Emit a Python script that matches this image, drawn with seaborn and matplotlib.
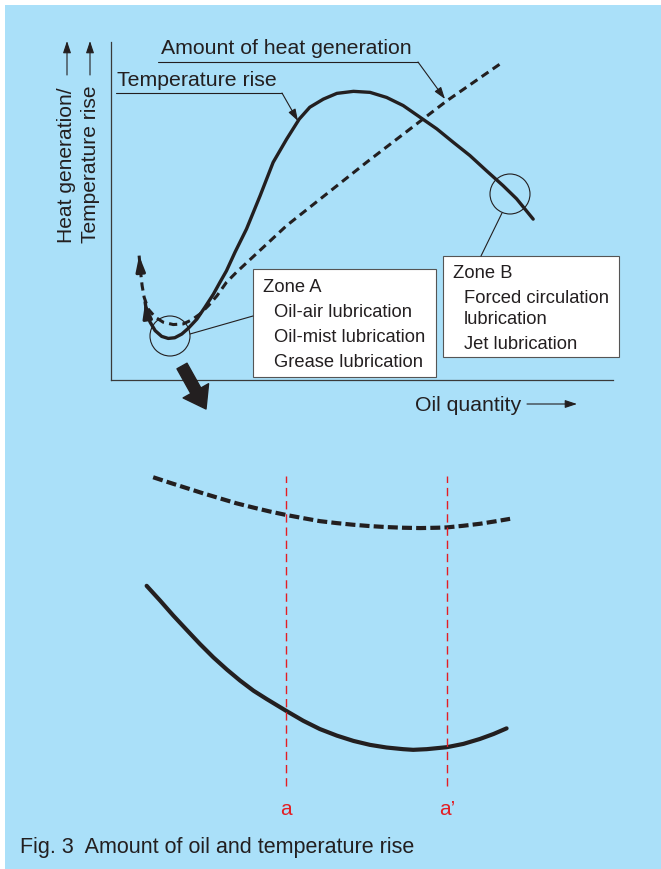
import matplotlib
matplotlib.use("Agg")
import matplotlib.pyplot as plt
import seaborn as sns
from matplotlib.patches import Rectangle, Circle

# upper panel, schematic units (oil quantity 0-100 / heat & temperature 0-100)
temp_x = [6.8, 7.1, 7.8, 8.8, 10.1, 11.4, 12.7, 14.1, 15.4, 17.1, 18.7, 20.4, 21.7, 23.0,
          24.7, 27.0, 29.7, 32.3, 35.0, 37.5, 39.6, 42.3, 45.0, 48.3, 51.6, 54.9, 58.2,
          61.6, 64.9, 68.2, 71.5, 74.8, 78.1, 80.8, 84.1]
temp_y = [23.0, 20.0, 17.1, 14.6, 12.9, 12.3, 12.5, 13.6, 15.3, 18.0, 21.5, 25.4, 28.9, 32.3,
          37.8, 44.7, 54.5, 64.4, 71.3, 77.2, 80.7, 83.1, 84.8, 85.4, 85.1, 83.6, 81.2,
          77.7, 74.3, 70.3, 66.4, 61.9, 57.5, 53.6, 47.6]
heat_x = [5.6, 5.9, 6.2, 6.6, 7.4, 8.8, 10.4, 12.4, 14.4, 16.1, 17.7, 19.4, 21.1, 23.0,
          25.0, 35.0, 50.9, 66.9, 77.5]
heat_y = [36.8, 31.9, 27.9, 24.5, 21.0, 18.6, 17.1, 16.4, 16.6, 17.8, 19.5, 22.0, 24.9, 28.9,
          31.9, 45.7, 64.4, 82.6, 93.5]

# lower panel (close-up of zone A minimum)
zoom_heat_x = [8.4, 11.8, 15.1, 18.4, 21.7, 25.0, 28.4, 31.7, 34.8, 38.3, 41.6, 45.0, 48.3,
               51.6, 54.9, 58.2, 61.6, 64.9, 66.9, 70.2, 73.5, 76.8, 79.5]
zoom_heat_y = [97.5, 95.8, 94.2, 92.6, 91.1, 89.6, 88.3, 87.1, 86.1, 85.1, 84.2, 83.6, 83.1,
               82.7, 82.4, 82.2, 82.1, 82.2, 82.3, 82.8, 83.4, 84.2, 84.9]
zoom_temp_x = [7.1, 9.8, 12.4, 15.1, 17.7, 20.4, 23.1, 25.7, 28.4, 31.0, 34.8, 38.3, 41.6,
               45.0, 48.3, 51.6, 54.9, 58.2, 60.2, 62.9, 66.9, 70.2, 73.5, 76.2, 78.8]
zoom_temp_y = [64.6, 60.1, 55.6, 51.2, 47.0, 42.9, 39.2, 35.9, 32.8, 30.3, 26.8, 23.7, 21.2,
               19.2, 17.6, 16.4, 15.6, 15.1, 14.9, 15.1, 15.7, 16.7, 18.2, 19.7, 21.4]
marks_x = [34.9, 66.9]
mark_labels = ["a", "a\u2019"]

zone_a_lines = ["Oil-air lubrication", "Oil-mist lubrication", "Grease lubrication"]
zone_b_lines = ["Forced circulation", "lubrication", "Jet lubrication"]

BG = "#aae0f9"
INK = "#231f20"
RED = "#e31e24"

sns.set_theme(style="white")
plt.rcParams["font.family"] = ["Liberation Sans", "DejaVu Sans"]

W, H = 661, 870
fig = plt.figure(figsize=(W / 100, H / 100), dpi=100, facecolor="white")
fig.add_artist(Rectangle((5 / W, 0), (W - 5) / W, (H - 6) / H, transform=fig.transFigure,
                         facecolor=BG, edgecolor="none", zorder=-10))

# main chart
ax = fig.add_axes([111 / W, (H - 381) / H, 502 / W, 338 / H])
ax.set_facecolor("none")
sns.lineplot(x=temp_x, y=temp_y, sort=False, estimator=None, ax=ax, color=INK, lw=2.4)
sns.lineplot(x=heat_x, y=heat_y, sort=False, estimator=None, ax=ax, color=INK, lw=2.2,
             linestyle=(0, (2.7, 1.7)))
ax.set_xlim(0, 100)
ax.set_ylim(0, 100)
ax.set_xticks([])
ax.set_yticks([])
sns.despine(ax=ax)
for s in ["left", "bottom"]:
    ax.spines[s].set_color("#3a3a3a")
    ax.spines[s].set_linewidth(0.9)

# arrowheads at the start of both curves
head = "-|>,head_length=0.5,head_width=0.15"
ax.annotate("", xy=(heat_x[0], heat_y[0]), xytext=(heat_x[1], heat_y[1]),
            arrowprops=dict(arrowstyle=head, color=INK, lw=2.2, mutation_scale=18,
                            shrinkA=3, shrinkB=0))
ax.annotate("", xy=(temp_x[0], temp_y[0]), xytext=(temp_x[1], temp_y[1]),
            arrowprops=dict(arrowstyle=head, color=INK, lw=2.2, mutation_scale=18,
                            shrinkA=0, shrinkB=0))

# close-up chart
axb = fig.add_axes([111 / W, (H - 800) / H, 502 / W, 330 / H])
axb.set_facecolor("none")
sns.lineplot(x=zoom_heat_x, y=zoom_heat_y, sort=False, estimator=None, ax=axb, color=INK,
             lw=3.0, linestyle=(0, (2.4, 1.0)))
sns.lineplot(x=zoom_temp_x, y=zoom_temp_y, sort=False, estimator=None, ax=axb, color=INK,
             lw=3.0)
axb.vlines(marks_x, 3.9, 97.9, colors=RED, lw=1.0, linestyles=(0, (6, 3.5)))
axb.set_xlim(0, 100)
axb.set_ylim(0, 100)
axb.axis("off")

# overlay in pixel units for labels and call-outs
ov = fig.add_axes([0, 0, 1, 1], zorder=3)
ov.set_xlim(0, W)
ov.set_ylim(H, 0)
ov.axis("off")
ov.set_facecolor("none")

small = dict(arrowstyle="-|>,head_length=0.6,head_width=0.2", color=INK, lw=0.8,
             mutation_scale=12, shrinkA=0, shrinkB=0)

# axis labels
ov.text(67, 243, "Heat generation/", rotation=90, ha="center", va="bottom", fontsize=15.1, color=INK)
ov.text(90, 243, "Temperature rise", rotation=90, ha="center", va="bottom", fontsize=15.1, color=INK)
for xx in (67, 90):
    ov.annotate("", xy=(xx, 42), xytext=(xx, 76), arrowprops=small)
ov.text(415, 406, "Oil quantity", ha="left", va="center", fontsize=15.3, color=INK)
ov.annotate("", xy=(577, 405), xytext=(527, 405), arrowprops=small)

# curve names with leaders
ov.text(161, 49, "Amount of heat generation", ha="left", va="center", fontsize=15.3, color=INK)
ov.plot([158, 418], [63, 63], color=INK, lw=0.8)
ov.annotate("", xy=(445, 100), xytext=(418, 63), arrowprops=small)
ov.text(117, 81, "Temperature rise", ha="left", va="center", fontsize=15.3, color=INK)
ov.plot([116, 282], [94, 94], color=INK, lw=0.8)
ov.annotate("", xy=(298, 122), xytext=(282, 94), arrowprops=small)

# zone A
ov.add_patch(Circle((170, 337), 20, fill=False, edgecolor=INK, lw=0.8))
ov.plot([190, 253], [335, 317], color=INK, lw=0.8)
ov.add_patch(Rectangle((253, 270), 183, 108, facecolor="white", edgecolor="#555555", lw=0.8))
ov.text(263, 288, "Zone A", ha="left", va="center", fontsize=13.2, color=INK)
for i, t in enumerate(zone_a_lines):
    ov.text(274, 313 + 25 * i, t, ha="left", va="center", fontsize=13.2, color=INK)

# zone B
ov.add_patch(Circle((510, 195), 20, fill=False, edgecolor=INK, lw=0.8))
ov.plot([502, 481], [214, 257], color=INK, lw=0.8)
ov.add_patch(Rectangle((443, 257), 176, 101, facecolor="white", edgecolor="#555555", lw=0.8))
ov.text(453, 274, "Zone B", ha="left", va="center", fontsize=13.2, color=INK)
for t, yy in zip(zone_b_lines, [299, 320, 345]):
    ov.text(464, yy, t, ha="left", va="center", fontsize=13.2, color=INK)

# big arrow pointing to the close-up
ov.annotate("", xy=(206, 410), xytext=(182, 367),
            arrowprops=dict(arrowstyle="simple,head_length=1.0,head_width=1.4,tail_width=0.55",
                            color=INK, mutation_scale=15, shrinkA=0, shrinkB=0))

# a / a' labels
for mx, lab in zip(marks_x, mark_labels):
    px = 111 + mx * 5.02
    ov.text(px, 810, lab, ha="center", va="center", fontsize=15, color=RED)

ov.text(20, 848, "Fig. 3  Amount of oil and temperature rise", ha="left", va="center",
        fontsize=15.5, color=INK)

fig.savefig("out.png", dpi=100, facecolor="white")
